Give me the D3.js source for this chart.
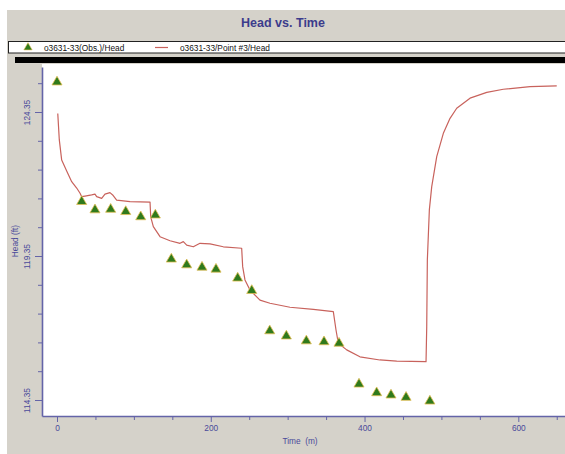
<!DOCTYPE html>
<html>
<head>
<meta charset="utf-8">
<script src="https://cdn.jsdelivr.net/npm/d3@7"></script>
<style>
  html, body { margin: 0; padding: 0; background: #ffffff; }
  svg { display: block; font-family: "Liberation Sans", Arial, sans-serif; }
</style>
</head>
<body>
<svg id="chart" width="565" height="454"></svg>
<script>
// Observed head at well o3631-33
const obsTime = [0, 32.1, 49.4, 69.8, 89.4, 108.9, 127.9, 148.7, 168.7, 188.6, 206.8, 235, 253.3,
  276.7, 298.3, 324.3, 347.3, 366.8, 392.8, 415.8, 434.4, 454, 485];
const obsHead = [125.39, 121.24, 120.95, 120.97, 120.89, 120.71, 120.77, 119.24, 119.04, 118.96, 118.89, 118.58, 118.15,
  116.75, 116.57, 116.40, 116.37, 116.32, 114.90, 114.60, 114.52, 114.44, 114.31];

// Simulated head at Point #3
const simTime = [1, 3, 6.1, 12.6, 19.1, 25.6, 30, 32.1, 36.4, 45.1, 49.4, 51.6, 58.1, 62.4, 68.9, 72.4, 77.6, 95, 121,
  121.9, 125.3, 134, 147, 160, 164.3, 168.7, 177.3, 186, 199, 216.3, 240.2,
  241.5, 244.5, 251, 264, 277, 303, 333.4, 359.4,
  362.9, 365.9, 376.8, 394, 420, 441.9, 480,
  480.9, 481.7, 484.3, 487.4, 493.9, 502.5, 511.2, 519.9, 537.2, 559, 580.5, 615.3, 650];
const simHead = [124.30, 123.38, 122.68, 122.30, 121.93, 121.71, 121.53, 121.41, 121.43, 121.47, 121.50, 121.41, 121.35, 121.50, 121.55, 121.47, 121.29, 121.24, 121.22,
  120.71, 120.37, 120.02, 119.88, 119.79, 119.85, 119.73, 119.67, 119.79, 119.77, 119.67, 119.62,
  118.98, 118.52, 118.17, 117.82, 117.71, 117.57, 117.50, 117.42,
  116.78, 116.32, 116.09, 115.85, 115.74, 115.70, 115.68,
  116.89, 119.21, 120.95, 121.76, 122.80, 123.61, 124.13, 124.48, 124.83, 125.03, 125.14, 125.23, 125.26];

const xTicks = d3.range(0, 701, 50);
const xLabels = [0, 200, 400, 600];
const yTicks = d3.range(0, 12).map(i => +(114.35 + i).toFixed(2));
const yLabels = [114.35, 119.35, 124.35];

const svg = d3.select("#chart");
const axisColor = "#6464a8";
const textColor = "#4a4a9a";
const lineColor = "#c8625c";

// frame background
svg.append("rect").attr("x", 7).attr("y", 10).attr("width", 560).attr("height", 446).attr("fill", "#d5d2ca");

// title
svg.append("text").attr("x", 283).attr("y", 27).attr("text-anchor", "middle")
  .attr("font-size", 12.5).attr("font-weight", "bold").attr("fill", "#3c3c8c").text("Head vs. Time");

// legend strip
svg.append("rect").attr("x", 8.5).attr("y", 41.5).attr("width", 570).attr("height", 11.5)
  .attr("fill", "#ffffff").attr("stroke", "#222").attr("stroke-width", 1);
svg.append("rect").attr("x", 15).attr("y", 57).attr("width", 560).attr("height", 6).attr("fill", "#000");

const triangle = d3.symbol().type(d3.symbolTriangle).size(44);
const legendTriangle = d3.symbol().type(d3.symbolTriangle).size(30);
const markFill = "#2f7a1c", markStroke = "#e5bf55";
svg.append("path").attr("d", legendTriangle).attr("transform", "translate(28,47.5)")
  .attr("fill", markFill).attr("stroke", markStroke).attr("stroke-width", 0.6);
svg.append("text").attr("x", 44).attr("y", 50.5).attr("font-size", 8.3).attr("fill", "#111").text("o3631-33(Obs.)/Head");
svg.append("line").attr("x1", 155).attr("x2", 168).attr("y1", 47.5).attr("y2", 47.5)
  .attr("stroke", lineColor).attr("stroke-width", 1.2);
svg.append("text").attr("x", 180).attr("y", 50.5).attr("font-size", 8.3).attr("fill", "#111").text("o3631-33/Point #3/Head");

// plot area
const pLeft = 42, pTop = 64, pRight = 566, pBottom = 416;
svg.append("rect").attr("x", pLeft).attr("y", pTop).attr("width", pRight - pLeft).attr("height", pBottom - pTop).attr("fill", "#ffffff");

const x0 = d3.scaleLinear().domain([0, 600]).range([57, 518.3]);
const x = x0.copy().domain([x0.invert(pLeft), x0.invert(pRight)]).range([pLeft, pRight]);
const y0 = d3.scaleLinear().domain([114.35, 124.35]).range([400, 112]);
const y = y0.copy().domain([y0.invert(pBottom), y0.invert(67)]).range([pBottom, 67]);

const plot = svg.append("g");

// simulated line
plot.append("path")
  .datum(simTime.map((t, i) => [t, simHead[i]]))
  .attr("fill", "none").attr("stroke", lineColor).attr("stroke-width", 1.2).attr("stroke-linejoin", "round")
  .attr("d", d3.line().x(d => x(d[0])).y(d => y(d[1])));

// observed markers
plot.selectAll("path.obs").data(obsTime.map((t, i) => [t, obsHead[i]])).join("path")
  .attr("class", "obs").attr("d", triangle)
  .attr("transform", d => `translate(${x(d[0])},${y(d[1])})`)
  .attr("fill", markFill).attr("stroke", markStroke).attr("stroke-width", 0.8);

// x axis
const xAxis = svg.append("g").attr("transform", `translate(0,${pBottom})`)
  .call(d3.axisBottom(x).tickValues(xTicks.filter(v => x(v) <= pRight)).tickSize(4).tickSizeOuter(0)
    .tickFormat(d => xLabels.includes(d) ? d : ""));
xAxis.select(".domain").attr("stroke", axisColor).attr("stroke-width", 1.6);
xAxis.selectAll(".tick line").attr("stroke", axisColor).attr("y2", d => xLabels.includes(d) ? 6 : 4);
xAxis.selectAll(".tick text").attr("fill", textColor).attr("font-size", 8.3).attr("dy", "0.9em").attr("y", 8)
  .attr("font-family", "Liberation Sans, Arial, sans-serif");

// y axis
const yAxis = svg.append("g").attr("transform", `translate(${pLeft},0)`)
  .call(d3.axisLeft(y).tickValues(yTicks).tickSize(4).tickSizeOuter(0)
    .tickFormat(d => yLabels.includes(d) ? d.toFixed(2) : ""));
yAxis.select(".domain").attr("stroke", axisColor).attr("stroke-width", 1.6);
yAxis.selectAll(".tick line").attr("stroke", axisColor).attr("x2", d => yLabels.includes(d) ? -7 : -4);
yAxis.selectAll(".tick text")
  .attr("fill", textColor).attr("font-size", 8.3).attr("font-family", "Liberation Sans, Arial, sans-serif")
  .attr("text-anchor", "middle").attr("x", 0).attr("dy", 0)
  .attr("transform", "translate(-12,0) rotate(-90)");

// axis titles
svg.append("text").attr("x", 300).attr("y", 444).attr("text-anchor", "middle")
  .attr("font-size", 8.3).attr("fill", textColor).attr("xml:space", "preserve").text("Time  (m)");
svg.append("text").attr("transform", "translate(18,241) rotate(-90)").attr("text-anchor", "middle")
  .attr("font-size", 8.3).attr("fill", textColor).text("Head (ft)");
</script>
</body>
</html>
